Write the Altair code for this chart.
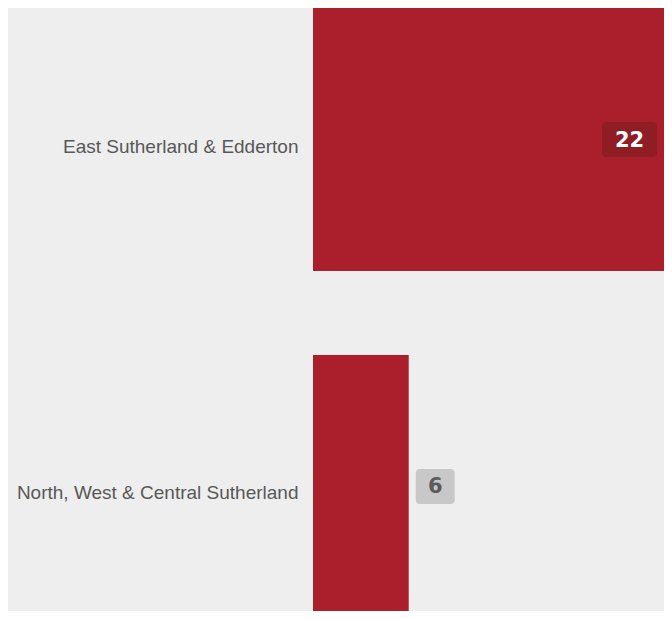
import altair as alt
import pandas as pd

areas = ["East Sutherland & Edderton", "North, West & Central Sutherland"]
values = [22, 6]

df = pd.DataFrame({"area": areas, "value": values})

BAR = "#ab1f2d"
y_enc = alt.Y("area:N", sort=areas, title=None,
              scale=alt.Scale(paddingInner=0.242, paddingOuter=0, range=[0, 610]),
              axis=alt.Axis(domain=False, ticks=False, grid=False, labelPadding=15,
                            labelFontSize=19, labelColor="#585858", labelOffset=7,
                            labelFont="Liberation Sans", labelLimit=400))
x_scale = alt.Scale(domain=[0, 22], nice=False, zero=True)

bars = alt.Chart(df).mark_bar(color=BAR).encode(
    x=alt.X("value:Q", scale=x_scale, axis=None),
    y=y_enc,
)

inside = alt.datum.value > 10

box_in = alt.Chart(df).transform_filter(inside).mark_bar(
    color="#8e1e24", height=35, cornerRadius=4, xOffset=-62, x2Offset=-7
).encode(x=alt.X("value:Q", scale=x_scale, axis=None), x2="value:Q", y=y_enc)

box_out = alt.Chart(df).transform_filter(~inside).mark_bar(
    color="#c8c8c8", height=35, cornerRadius=4, xOffset=7, x2Offset=46
).encode(x=alt.X("value:Q", scale=x_scale, axis=None), x2="value:Q", y=y_enc)

txt_in = alt.Chart(df).transform_filter(inside).mark_text(
    font="DejaVu Sans", fontWeight="bold", fontSize=21, color="#ffffff",
    align="center", baseline="middle", dx=-34.5, dy=1
).encode(x=alt.X("value:Q", scale=x_scale, axis=None), y=y_enc, text="value:Q")

txt_out = alt.Chart(df).transform_filter(~inside).mark_text(
    font="DejaVu Sans", fontWeight="bold", fontSize=21, color="#5b5b5b",
    align="center", baseline="middle", dx=26.5, dy=1
).encode(x=alt.X("value:Q", scale=x_scale, axis=None), y=y_enc, text="value:Q")

chart = alt.layer(bars, box_in, box_out, txt_in, txt_out).properties(
    width=351, height=603,
    autosize=alt.AutoSizeParams(type="none"),
    padding={"left": 305, "top": 0, "right": 0, "bottom": 0},
    background="#eeeeee",
).configure_view(stroke=None)

chart.save("out.html", embed_options={"renderer": "svg", "actions": False})
